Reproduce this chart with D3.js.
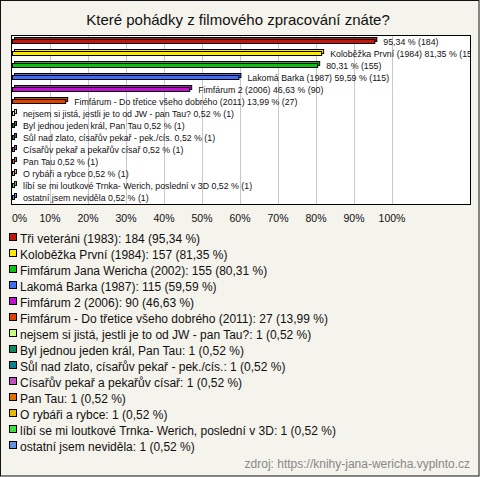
<!DOCTYPE html>
<html><head><meta charset="utf-8">
<script src="https://cdn.jsdelivr.net/npm/d3@7"></script>
<style>body{margin:0;background:#fff}svg{display:block}</style>
</head><body>
<script>
const title = "Které pohádky z filmového zpracování znáte?";
const source = "zdroj: https://knihy-jana-wericha.vyplnto.cz";
const categories = [
  "Tři veteráni (1983)",
  "Koloběžka První (1984)",
  "Fimfárum Jana Wericha (2002)",
  "Lakomá Barka (1987)",
  "Fimfárum 2 (2006)",
  "Fimfárum - Do třetice všeho dobrého (2011)",
  "nejsem si jistá, jestli je to od JW - pan Tau?",
  "Byl jednou jeden král, Pan Tau",
  "Sůl nad zlato, císařův pekař - pek./cís.",
  "Císařův pekař a pekařův císař",
  "Pan Tau",
  "O rybáři a rybce",
  "líbí se mi loutkové Trnka- Werich, poslední v 3D",
  "ostatní jsem neviděla"
];
const counts = [184, 157, 155, 115, 90, 27, 1, 1, 1, 1, 1, 1, 1, 1];
const percents = [95.34, 81.35, 80.31, 59.59, 46.63, 13.99, 0.52, 0.52, 0.52, 0.52, 0.52, 0.52, 0.52, 0.52];
const barLabels = [
  "95,34 % (184)",
  "Koloběžka První (1984) 81,35 % (157)",
  "80,31 % (155)",
  "Lakomá Barka (1987) 59,59 % (115)",
  "Fimfárum 2 (2006) 46,63 % (90)",
  "Fimfárum - Do třetice všeho dobrého (2011) 13,99 % (27)",
  "nejsem si jistá, jestli je to od JW - pan Tau? 0,52 % (1)",
  "Byl jednou jeden král, Pan Tau 0,52 % (1)",
  "Sůl nad zlato, císařův pekař - pek./cís. 0,52 % (1)",
  "Císařův pekař a pekařův císař 0,52 % (1)",
  "Pan Tau 0,52 % (1)",
  "O rybáři a rybce 0,52 % (1)",
  "líbí se mi loutkové Trnka- Werich, poslední v 3D 0,52 % (1)",
  "ostatní jsem neviděla 0,52 % (1)"
];
const colors = ["#C0180C","#FFE800","#10C010","#4070F0","#C010D0","#E04000","#C8FF80",
  "#108860","#108090","#C050C0","#E07000","#E8B800","#40E040","#6890E0"];
const tickValues = [0,10,20,30,40,50,60,70,80,90,100];

const W = 480, H = 477;
const svg = d3.select("body").append("svg").attr("width", W).attr("height", H)
  .style("font-family", "'Liberation Sans', Arial, sans-serif");

svg.append("rect").attr("x",0.5).attr("y",0.5).attr("width",W-1.5).attr("height",H-1.5)
  .attr("fill","#F4F3EC").attr("stroke","#111").attr("stroke-width",1);

svg.append("text").attr("x",238).attr("y",25).attr("text-anchor","middle")
  .attr("font-size",15).attr("fill","#111").text(title);

const frame = {x0: 11, x1: 471, y0: 35, y1: 205};
const x = d3.scaleLinear().domain([0,100]).range([12, 392]);
const y = d3.scaleBand().domain(categories).range([35, 203]).padding(0);

const defs = svg.append("defs");
defs.append("clipPath").attr("id","pc").append("rect")
  .attr("x",frame.x0).attr("y",frame.y0).attr("width",frame.x1-frame.x0).attr("height",frame.y1-frame.y0);

svg.append("rect").attr("x",frame.x0+0.5).attr("y",frame.y0+0.5)
  .attr("width",frame.x1-frame.x0-1).attr("height",frame.y1-frame.y0-1).attr("fill","#fff");

svg.append("g").selectAll("line").data(tickValues.slice(1)).join("line")
  .attr("x1", d => Math.round(x(d))+0.5).attr("x2", d => Math.round(x(d))+0.5)
  .attr("y1", frame.y0).attr("y2", frame.y1).attr("stroke","#C8C8C8");

const plot = svg.append("g").attr("clip-path","url(#pc)");
const rows = plot.selectAll("g.row").data(categories).join("g").attr("class","row");
const depth = 2;
rows.append("rect")
  .attr("x", d => x(0)+depth+0.5).attr("y", d => y(d)+y.bandwidth()/2-3.5)
  .attr("width", (d,i) => x(percents[i])-x(0)).attr("height", 4)
  .attr("fill", (d,i)=>colors[i]).attr("stroke","#000").attr("stroke-width",1);
rows.append("rect")
  .attr("x", d => x(0)+0.5).attr("y", d => y(d)+y.bandwidth()/2-1.5)
  .attr("width", (d,i) => x(percents[i])-x(0)).attr("height", 4)
  .attr("fill", (d,i)=>colors[i]).attr("stroke","#000").attr("stroke-width",1);
rows.append("text")
  .attr("x", (d,i) => x(percents[i])+9).attr("y", d => y(d)+y.bandwidth()/2+3.5)
  .attr("font-size", 8.8).attr("fill","#111").text((d,i)=>barLabels[i]);

svg.append("rect").attr("x",frame.x0+0.5).attr("y",frame.y0+0.5)
  .attr("width",frame.x1-frame.x0-1).attr("height",frame.y1-frame.y0-1)
  .attr("fill","none").attr("stroke","#000");

svg.append("g").selectAll("text").data(tickValues).join("text")
  .attr("x", d => x(d)).attr("y", 222)
  .attr("text-anchor", d => d===0 ? "start" : "middle")
  .attr("font-size", 10.5).attr("fill","#111").text(d => d + "%");

const lg = svg.append("g").selectAll("g").data(categories).join("g")
  .attr("transform", (d,i) => `translate(0,${238 + i*16})`);
lg.append("rect").attr("x",9.5).attr("y",-4.5).attr("width",7).attr("height",7)
  .attr("fill",(d,i)=>colors[i]).attr("stroke","#000");
lg.append("text").attr("x",20).attr("y",4.5).attr("font-size",12).attr("fill","#111")
  .text((d,i)=> `${d}: ${counts[i]} (${d3.format(".2f")(percents[i]).replace(".",",")} %)`);

svg.append("text").attr("x",470).attr("y",468).attr("text-anchor","end")
  .attr("font-size",12).attr("fill","#888").text(source);
</script>
</body></html>
